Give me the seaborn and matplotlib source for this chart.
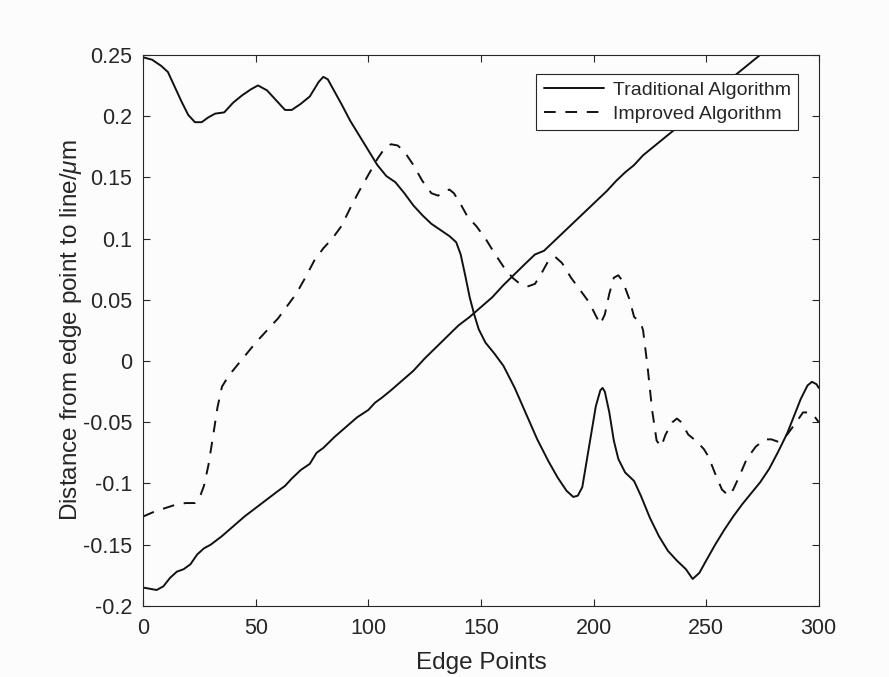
import numpy as np
import pandas as pd
import matplotlib
matplotlib.use("Agg")
import matplotlib.pyplot as plt
import seaborn as sns

# ---- data ----
trad_x = [0, 4, 8, 11, 14, 17, 20, 23, 26, 29, 32, 36, 40, 44, 48, 51, 55, 59, 63, 66, 70, 74, 78, 80,
          82, 85, 88, 92, 96, 100, 104, 108, 112, 116, 120, 124, 128, 132, 136, 139, 141, 143, 145, 147,
          149, 152, 156, 160, 165, 170, 175, 180, 184, 188, 191, 193, 195, 198, 201, 203, 204, 205, 207,
          209, 211, 214, 218, 221, 225, 229, 233, 237, 241, 244, 247, 250, 254, 258, 262, 266, 270, 274,
          278, 282, 286, 289, 292, 295, 297, 299, 300]
trad_y = [0.248, 0.246, 0.241, 0.236, 0.224, 0.212, 0.201, 0.195, 0.195, 0.199, 0.202, 0.203, 0.211,
          0.217, 0.222, 0.225, 0.221, 0.213, 0.205, 0.205, 0.210, 0.216, 0.228, 0.232,
          0.230, 0.220, 0.210, 0.196, 0.184, 0.172, 0.160, 0.151, 0.146, 0.137, 0.127, 0.119, 0.112,
          0.107, 0.102, 0.097, 0.087, 0.070, 0.052, 0.038,
          0.026, 0.015, 0.006, -0.004, -0.022, -0.043, -0.064, -0.082, -0.095, -0.106, -0.111, -0.110,
          -0.103, -0.070, -0.037, -0.024, -0.022, -0.025, -0.042,
          -0.065, -0.080, -0.091, -0.098, -0.110, -0.128, -0.143, -0.155, -0.163, -0.170, -0.178, -0.173,
          -0.163, -0.150, -0.138, -0.127, -0.117, -0.108, -0.099,
          -0.088, -0.074, -0.059, -0.045, -0.031, -0.020, -0.017, -0.019, -0.022]

impr_x = [0, 5, 10, 15, 19, 23, 25, 27, 29, 31, 33, 35, 38, 42, 46, 50, 55, 60, 64, 68, 72, 76, 80, 84,
          88, 92, 96, 100, 104, 107, 110, 113, 116, 120, 124, 128, 131, 133, 136, 138, 141, 144, 148,
          152, 156, 160, 164, 168, 171, 174, 177, 180, 183, 186, 190, 194, 198, 201, 203, 205, 207, 209,
          211, 213, 216, 218, 221, 222, 224, 226, 228, 230, 232, 235, 237, 239, 242, 246, 249, 251, 254,
          257, 260, 262, 265, 268, 272, 276, 279, 282, 286, 290, 293, 296, 298, 300]
impr_y = [-0.127, -0.123, -0.120, -0.117, -0.116, -0.116, -0.112, -0.102, -0.085, -0.062, -0.038,
          -0.021, -0.012, -0.003, 0.006, 0.015, 0.025, 0.035, 0.045, 0.055, 0.068, 0.082, 0.092, 0.100,
          0.110, 0.125, 0.139, 0.152, 0.165, 0.173, 0.177, 0.176, 0.171, 0.160, 0.147, 0.137, 0.135,
          0.138, 0.140, 0.137, 0.128, 0.118, 0.110,
          0.100, 0.088, 0.077, 0.068, 0.062, 0.061, 0.063, 0.072, 0.082, 0.085, 0.080, 0.068, 0.058,
          0.048, 0.037, 0.030, 0.038, 0.055, 0.068,
          0.070, 0.065, 0.050, 0.036, 0.031, 0.025, -0.005, -0.040, -0.065, -0.070, -0.060, -0.050,
          -0.047, -0.050, -0.060, -0.066, -0.072, -0.078, -0.092,
          -0.105, -0.110, -0.105, -0.093, -0.080, -0.070, -0.064, -0.064, -0.066, -0.060, -0.050,
          -0.042, -0.042, -0.045, -0.050]

line_x = [0, 3, 6, 9, 12, 15, 18, 21, 24, 27, 30, 35, 40, 45, 50, 55, 60, 63, 66, 70, 74, 77, 80, 85,
          90, 95, 100, 103, 106, 110, 115, 120, 125, 130, 135, 140, 145, 150, 155, 160, 165, 170, 174,
          178, 182, 186, 190, 194, 198, 202, 206, 210, 214, 218, 222, 226, 230, 234, 238, 242, 246, 250,
          254, 258, 262, 266, 270, 274, 278]
line_y = [-0.185, -0.186, -0.187, -0.184, -0.177, -0.172, -0.170, -0.166, -0.158, -0.153, -0.150,
          -0.143, -0.135, -0.127, -0.120, -0.113, -0.106, -0.102, -0.096, -0.089, -0.084, -0.075, -0.071,
          -0.062, -0.054, -0.046, -0.040, -0.034, -0.030, -0.024, -0.016, -0.008, 0.002, 0.011, 0.020,
          0.029, 0.036, 0.044, 0.052, 0.062, 0.071, 0.080, 0.087,
          0.090, 0.097, 0.104, 0.111, 0.118, 0.125, 0.132, 0.139, 0.147, 0.154, 0.160, 0.168, 0.174,
          0.180, 0.186, 0.192, 0.199, 0.207, 0.214,
          0.220, 0.226, 0.232, 0.238, 0.244, 0.250, 0.256]

x_ticks = [0, 50, 100, 150, 200, 250, 300]
y_ticks = [-0.2, -0.15, -0.1, -0.05, 0, 0.05, 0.1, 0.15, 0.2, 0.25]
y_tick_labels = ["-0.2", "-0.15", "-0.1", "-0.05", "0", "0.05", "0.1", "0.15", "0.2", "0.25"]
labels = ["Traditional Algorithm", "Improved Algorithm"]

# ---- styling ----
sns.set_theme(style="white")
plt.rcParams["font.family"] = ["Liberation Sans", "DejaVu Sans"]
plt.rcParams["mathtext.fontset"] = "custom"
plt.rcParams["mathtext.it"] = "Liberation Sans:italic"
plt.rcParams["mathtext.rm"] = "Liberation Sans"
plt.rcParams["axes.unicode_minus"] = False

fig = plt.figure(figsize=(8.89, 6.77), dpi=100)
ax = fig.add_axes([0.161, 0.105, 0.760, 0.814])

dark = "#111111"
sns.lineplot(x=trad_x, y=trad_y, ax=ax, color=dark, lw=1.4, label=labels[0], sort=False)
sns.lineplot(x=impr_x, y=impr_y, ax=ax, color=dark, lw=1.4, label=labels[1], sort=False,
             linestyle=(0, (6.0, 5.0)))
sns.lineplot(x=line_x, y=line_y, ax=ax, color=dark, lw=1.4, legend=False, sort=False)

ax.set_xlim(0, 300)
ax.set_ylim(-0.2, 0.25)
ax.set_xticks(x_ticks)
ax.set_xticklabels([str(t) for t in x_ticks])
ax.set_yticks(y_ticks)
ax.set_yticklabels(y_tick_labels)

for s in ax.spines.values():
    s.set_visible(True)
    s.set_color("#262626")
    s.set_linewidth(0.8)

ax.tick_params(axis="both", which="both", direction="in", length=5, width=0.8,
               color="#262626", labelsize=15.5, labelcolor="#262626",
               top=True, right=True, bottom=True, left=True)
ax.tick_params(axis="x", pad=9)
ax.tick_params(axis="y", pad=8)

ax.set_xlabel("Edge Points", fontsize=17.5, color="#262626", labelpad=9)
ax.set_ylabel(r"Distance from edge point to line/$\mu$m", fontsize=17.5, color="#262626", labelpad=-1)

leg = ax.legend(loc="upper right", bbox_to_anchor=(0.970, 0.9655), borderaxespad=0,
                fontsize=14, frameon=True, fancybox=False, edgecolor="#262626",
                handlelength=3.1, handletextpad=0.45, labelspacing=0.3, borderpad=0.4)
leg.get_frame().set_linewidth(0.8)
leg.get_frame().set_facecolor("white")
leg.get_frame().set_alpha(1.0)

fig.patch.set_facecolor("#fcfcfc")
ax.set_facecolor("#fcfcfc")
fig.savefig("out.png", dpi=100, facecolor=fig.get_facecolor())
